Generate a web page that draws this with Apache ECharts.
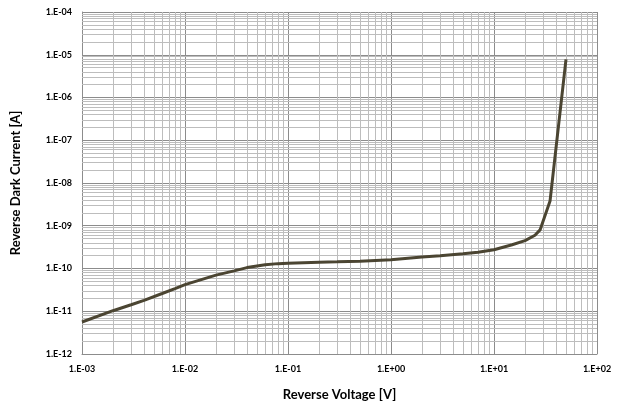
<!DOCTYPE html>
<html>
<head>
<meta charset="utf-8">
<script src="https://cdn.jsdelivr.net/npm/echarts@6/dist/echarts.min.js"></script>
<style>html,body{margin:0;padding:0;background:#fff}#c{width:618px;height:404px}</style>
</head>
<body>
<div id="c"></div>
<script>
// Reverse voltage [V]
const voltage = [0.001, 0.002, 0.003, 0.004, 0.006, 0.008, 0.01, 0.02, 0.03, 0.04, 0.06, 0.08, 0.1, 0.2, 0.3, 0.5, 1, 2, 3, 5, 7, 10, 15, 20, 25, 28, 35, 50];
// Reverse dark current [A]
const current = [5.6e-12, 1.03e-11, 1.42e-11, 1.8e-11, 2.6e-11, 3.4e-11, 4.2e-11, 7.0e-11, 8.8e-11, 1.05e-10, 1.22e-10, 1.3e-10, 1.33e-10, 1.4e-10, 1.43e-10, 1.48e-10, 1.6e-10, 1.85e-10, 1.98e-10, 2.2e-10, 2.4e-10, 2.75e-10, 3.6e-10, 4.5e-10, 6.0e-10, 8.0e-10, 3.8e-9, 7.8e-6];
const xTickLabels = ['1.E-03', '1.E-02', '1.E-01', '1.E+00', '1.E+01', '1.E+02'];
const yTickLabels = ['1.E-12', '1.E-11', '1.E-10', '1.E-09', '1.E-08', '1.E-07', '1.E-06', '1.E-05', '1.E-04'];
const xTitle = 'Reverse Voltage [V]';
const yTitle = 'Reverse Dark Current [A]';

const xMinExp = -3, xMaxExp = 2, yMinExp = -12, yMaxExp = -4;
const FONT = 'Lato';

function fmt(labels, minExp) {
  return function (v) {
    const e = Math.round(Math.log10(v));
    return labels[e - minExp] || '';
  };
}

// minor grid positions (2..9 within each decade)
const minorX = [], minorY = [];
for (let d = xMinExp; d < xMaxExp; d++) for (let k = 2; k <= 9; k++) minorX.push({ xAxis: k * Math.pow(10, d) });
for (let d = yMinExp; d < yMaxExp; d++) for (let k = 2; k <= 9; k++) minorY.push({ yAxis: k * Math.pow(10, d) });

const chart = echarts.init(document.getElementById('c'), null, { renderer: 'canvas' });
chart.setOption({
  animation: false,
  backgroundColor: '#ffffff',
  grid: { left: 82, right: 21, top: 12, bottom: 50, containLabel: false, outerBoundsMode: 'none' },
  xAxis: {
    type: 'log', logBase: 10,
    min: Math.pow(10, xMinExp), max: Math.pow(10, xMaxExp), interval: 1,
    name: xTitle, nameLocation: 'middle', nameGap: 34,
    nameTextStyle: { fontFamily: FONT, fontWeight: 'bold', fontSize: 13, color: '#000' },
    axisLine: { show: true, lineStyle: { color: '#8c8c8c', width: 1 } },
    axisTick: { show: false },
    axisLabel: { formatter: fmt(xTickLabels, xMinExp), fontFamily: FONT, fontWeight: 'bold', fontSize: 9, color: '#000', margin: 11 },
    splitLine: { show: true, lineStyle: { color: '#8c8c8c', width: 1 } }
  },
  yAxis: {
    type: 'log', logBase: 10,
    min: Math.pow(10, yMinExp), max: Math.pow(10, yMaxExp), interval: 1,
    name: yTitle, nameLocation: 'middle', nameGap: 60, nameRotate: 90,
    nameTextStyle: { fontFamily: FONT, fontWeight: 'bold', fontSize: 13, color: '#000' },
    axisLine: { show: true, lineStyle: { color: '#8c8c8c', width: 1 } },
    axisTick: { show: false },
    axisLabel: { formatter: fmt(yTickLabels, yMinExp), fontFamily: FONT, fontWeight: 'bold', fontSize: 9, color: '#000', margin: 10 },
    splitLine: { show: true, lineStyle: { color: '#8c8c8c', width: 1 } }
  },
  series: [
    {
      type: 'line',
      data: [[voltage[0], current[0]]],
      symbol: 'none',
      lineStyle: { opacity: 0 },
      silent: true,
      z: 1,
      markLine: {
        silent: true, symbol: 'none', z: 1, precision: 20,
        label: { show: false },
        lineStyle: { color: '#bdbdbd', width: 1, type: 'solid' },
        emphasis: { disabled: true },
        data: minorX.concat(minorY)
      }
    },
    {
      type: 'line',
      data: voltage.map((v, i) => [v, current[i]]),
      symbol: 'none',
      z: 5,
      lineStyle: { color: '#4b4532', width: 3 }
    }
  ]
});
</script>
</body>
</html>
